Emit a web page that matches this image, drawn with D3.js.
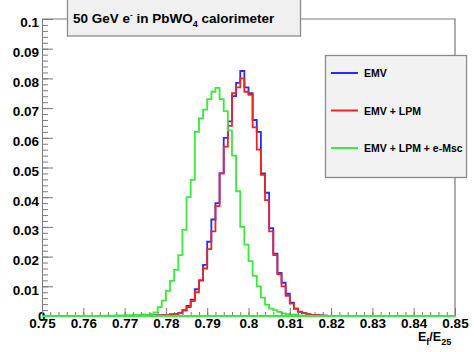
<!DOCTYPE html>
<html>
<head>
<meta charset="utf-8">
<script src="https://cdn.jsdelivr.net/npm/d3@7"></script>
<style>
  body { margin: 0; background: #fff; }
  svg { display: block; font-family: "Liberation Sans", Arial, sans-serif; font-weight: bold; }
</style>
</head>
<body>
<svg id="chart" width="474" height="352"></svg>
<script>

// Tick labels for the two axes
var xTickLabels = ["0.75", "0.76", "0.77", "0.78", "0.79", "0.8", "0.81", "0.82", "0.83", "0.84", "0.85"];
var yTickLabels = ["0", "0.01", "0.02", "0.03", "0.04", "0.05", "0.06", "0.07", "0.08", "0.09", "0.1"];

// Histogram binning (100 bins between 0.75 and 0.85), values listed from binLow on
var histMin = 0.75, histMax = 0.85, binWidth = 0.001;
var binLow = 0.765;

var seriesNames = ["EMV", "EMV + LPM", "EMV + LPM + e-Msc"];

// EMV
var emv = [0, 0, 0, 0, 0, 0, 0, 0, 0.0001, 0.0002,
           0.0002, 0.0001, 0.0002, 0.0002, 0.0003, 0.0003, 0.0005, 0.0007, 0.0010, 0.0020,
           0.0034, 0.0055, 0.0090, 0.0120, 0.0172, 0.0250, 0.0325, 0.0380, 0.0480, 0.0600,
           0.0655, 0.0740, 0.0785, 0.0825, 0.0770, 0.0750, 0.0660, 0.0620, 0.0480, 0.0415,
           0.0296, 0.0210, 0.0145, 0.0112, 0.0075, 0.0045, 0.0025, 0.0014, 0.0010, 0.0006,
           0.0004, 0.0003, 0.0002, 0.0001, 0];

// EMV + LPM
var emvLpm = [0, 0, 0, 0, 0, 0, 0, 0, 0.0001, 0.0002,
              0.0002, 0.0001, 0.0002, 0.0002, 0.0003, 0.0003, 0.0005, 0.0007, 0.0010, 0.0018,
              0.0030, 0.0050, 0.0080, 0.0120, 0.0160, 0.0225, 0.0285, 0.0370, 0.0480, 0.0570,
              0.0640, 0.0750, 0.0770, 0.0800, 0.0755, 0.0745, 0.0635, 0.0560, 0.0475, 0.0390,
              0.0285, 0.0205, 0.0140, 0.0100, 0.0068, 0.0042, 0.0025, 0.0015, 0.0010, 0.0006,
              0.0004, 0.0003, 0.0002, 0.0001, 0];

// EMV + LPM + e-Msc
var emvLpmMsc = [0.0001, 0.0001, 0.0001, 0.0002, 0.0002, 0.0003, 0.0003, 0.0004, 0.0004, 0.0005,
                 0.0004, 0.0006, 0.0012, 0.0030, 0.0052, 0.0085, 0.0118, 0.0155, 0.0205, 0.0290,
                 0.0400, 0.0458, 0.0620, 0.0665, 0.0695, 0.0730, 0.0755, 0.0768, 0.0730, 0.0690,
                 0.0625, 0.0540, 0.0420, 0.0300, 0.0240, 0.0185, 0.0135, 0.0100, 0.0062, 0.0038,
                 0.0025, 0.0020, 0.0014, 0.0009, 0.0006, 0.0004, 0.0005, 0.0002, 0.0001, 0.0001,
                 0, 0, 0, 0, 0];

var seriesValues = [emv, emvLpm, emvLpmMsc];
var seriesColors = ["#2a2aff", "#ee2424", "#3be83b"];

// Frame of the plot
var frameLeft = 42, frameRight = 455, frameTop = 19, frameBottom = 316;

var svg = d3.select("#chart");

var x = d3.scaleLinear().domain([histMin, histMax]).range([frameLeft, frameRight]);
var y = d3.scaleLinear().domain([0, 0.1]).range([frameBottom, frameTop]);

// Frame lines (top and right)
svg.append("path")
    .attr("d", "M" + frameLeft + "," + frameTop + "H" + frameRight + "V" + frameBottom)
    .attr("fill", "none")
    .attr("stroke", "#7a7a7a")
    .attr("stroke-width", 1.2);

// Build the full step histogram for each series
var nBins = Math.round((histMax - histMin) / binWidth);
function histPoints(values) {
    var pts = [];
    for (var i = 0; i < nBins; i++) {
        var edge = histMin + i * binWidth;
        var k = Math.round((edge - binLow) / binWidth);
        var v = (k >= 0 && k < values.length) ? values[k] : 0;
        pts.push([edge, v]);
    }
    pts.push([histMax, 0]);
    return pts;
}

var line = d3.line()
    .x(function (d) { return x(d[0]); })
    .y(function (d) { return y(d[1]); })
    .curve(d3.curveStepAfter);

svg.selectAll("path.hist")
    .data(seriesValues)
    .enter().append("path")
    .attr("class", "hist")
    .attr("d", function (d) { return line(histPoints(d)); })
    .attr("fill", "none")
    .attr("stroke", function (d, i) { return seriesColors[i]; })
    .attr("stroke-width", 1.8)
    .attr("stroke-linejoin", "miter");

// Y axis: minor ticks, then major ticks with labels
var yMinor = d3.range(0, 0.1001, 0.002);
svg.append("g")
    .attr("transform", "translate(" + frameLeft + ",0)")
    .call(d3.axisLeft(y).tickValues(yMinor).tickSize(-6).tickFormat(""))
    .call(function (g) { g.select(".domain").remove(); });

var yAxis = svg.append("g")
    .attr("transform", "translate(" + frameLeft + ",0)")
    .call(d3.axisLeft(y)
        .tickValues(yTickLabels.map(Number))
        .tickSizeInner(-11).tickSizeOuter(0).tickPadding(3)
        .tickFormat(function (d, i) { return yTickLabels[i]; }));

yAxis.selectAll("text")
    .attr("dy", "0.58em")
    .style("font-size", "13.5px")
    .style("font-weight", "bold")
    .style("font-family", "Liberation Sans, Arial, sans-serif")
    .attr("fill", "#000");
yAxis.selectAll(".tick").filter(function (d) { return d === 0; }).select("text")
    .attr("x", 3.5)
    .attr("dy", "0.3em");

// X axis: minor ticks, then major ticks with labels
var xMinor = d3.range(histMin, histMax + 0.0001, 0.002);
svg.append("g")
    .attr("transform", "translate(0," + frameBottom + ")")
    .call(d3.axisBottom(x).tickValues(xMinor).tickSize(-4).tickFormat(""))
    .call(function (g) { g.select(".domain").remove(); });

var xAxis = svg.append("g")
    .attr("transform", "translate(0," + frameBottom + ")")
    .call(d3.axisBottom(x)
        .tickValues(xTickLabels.map(Number))
        .tickSizeInner(-8).tickSizeOuter(0).tickPadding(2)
        .tickFormat(function (d, i) { return xTickLabels[i]; }));

xAxis.selectAll("text")
    .style("font-size", "13.5px")
    .style("font-weight", "bold")
    .style("font-family", "Liberation Sans, Arial, sans-serif")
    .attr("fill", "#000");

svg.selectAll(".domain, .tick line").attr("stroke", "#7a7a7a");

// Green zero line sits over the x axis
svg.append("path")
    .attr("d", line([[histMin, 0], [histMax, 0]]))
    .attr("stroke", seriesColors[2])
    .attr("stroke-width", 1.8);

// X axis title E_f/E_25
var xt = svg.append("text")
    .attr("x", 418)
    .attr("y", 341)
    .style("font-size", "12.5px");
xt.append("tspan").text("E");
xt.append("tspan").attr("dy", 4).style("font-size", "9px").text("f");
xt.append("tspan").attr("dy", -4).text("/E");
xt.append("tspan").attr("dy", 4).style("font-size", "9px").text("25");

// Title box
svg.append("rect")
    .attr("x", 67.5).attr("y", -2)
    .attr("width", 233).attr("height", 38)
    .attr("fill", "#f0f0f0")
    .attr("stroke", "#8a8a8a")
    .attr("stroke-width", 1.3);

var title = svg.append("text")
    .attr("x", 73)
    .attr("y", 23)
    .style("font-size", "13.5px");
title.append("tspan").text("50 GeV e");
title.append("tspan").attr("dy", -6).style("font-size", "8px").text("-");
title.append("tspan").attr("dy", 6).text(" in PbWO");
title.append("tspan").attr("dy", 4).style("font-size", "9px").text("4");
title.append("tspan").attr("dy", -4).text(" calorimeter");

// Legend
var legendX = 325, legendY = 55;
svg.append("rect")
    .attr("x", legendX + 0.5).attr("y", legendY + 0.5)
    .attr("width", 141).attr("height", 122)
    .attr("fill", "#f2f2f2")
    .attr("stroke", "#8a8a8a")
    .attr("stroke-width", 1.3);

var legendRows = svg.selectAll("g.legend")
    .data(seriesNames)
    .enter().append("g")
    .attr("class", "legend")
    .attr("transform", function (d, i) { return "translate(" + legendX + "," + (legendY + 18 + i * 37.5) + ")"; });

legendRows.append("line")
    .attr("x1", 6).attr("x2", 33)
    .attr("y1", 0).attr("y2", 0)
    .attr("stroke", function (d, i) { return seriesColors[i]; })
    .attr("stroke-width", 2);

legendRows.append("text")
    .attr("x", 39)
    .attr("y", 4)
    .style("font-size", "10.5px")
    .text(function (d) { return d; });

</script>
</body>
</html>
